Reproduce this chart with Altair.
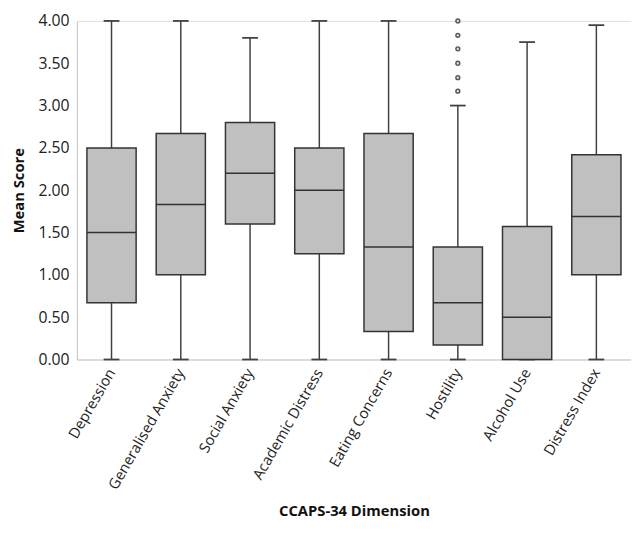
import altair as alt
import pandas as pd

categories = ["Depression", "Generalised Anxiety", "Social Anxiety", "Academic Distress",
              "Eating Concerns", "Hostility", "Alcohol Use", "Distress Index"]
whisker_low = [0.00, 0.00, 0.00, 0.00, 0.00, 0.00, 0.00, 0.00]
q1 = [0.67, 1.00, 1.60, 1.25, 0.33, 0.17, 0.00, 1.00]
median = [1.50, 1.83, 2.20, 2.00, 1.33, 0.67, 0.50, 1.69]
q3 = [2.50, 2.67, 2.80, 2.50, 2.67, 1.33, 1.57, 2.42]
whisker_high = [4.00, 4.00, 3.80, 4.00, 4.00, 3.00, 3.75, 3.95]
outlier_cat = ["Hostility"] * 6
outlier_val = [3.17, 3.33, 3.50, 3.67, 3.83, 4.00]

df = pd.DataFrame({"cat": categories, "lo": whisker_low, "q1": q1, "med": median,
                   "q3": q3, "hi": whisker_high})
odf = pd.DataFrame({"cat": outlier_cat, "val": outlier_val})

FONT = "Open Sans"
xenc = alt.X("cat:N", sort=categories, title="CCAPS-34 Dimension",
             scale=alt.Scale(paddingInner=0, paddingOuter=0),
             axis=alt.Axis(labelAngle=-60, labelAlign="right", labelBaseline="middle",
                           ticks=False, labelPadding=10, domainColor="#c8c8c8",
                           labelFontSize=15, titleFontSize=15, titleFontWeight="bold",
                           labelColor="#222222", titleColor="#111111", titlePadding=12,
                           labelFont=FONT, titleFont=FONT, labelLimit=300))
yscale = alt.Scale(domain=[0, 4], nice=False)
yaxis = alt.Axis(values=[0, 0.5, 1, 1.5, 2, 2.5, 3, 3.5, 4], format=".2f", grid=False,
                 ticks=False, labelPadding=8, domainColor="#c8c8c8", labelFontSize=16,
                 titleFontSize=15, titleFontWeight="bold", labelColor="#222222",
                 titleColor="#111111", titlePadding=12, labelFont=FONT, titleFont=FONT)

xs = alt.X("cat:N", sort=categories)
base = alt.Chart(df)
whisk = base.mark_rule(color="#404040", strokeWidth=1.5).encode(
    x=xenc, y=alt.Y("lo:Q", scale=yscale, axis=yaxis, title="Mean Score"), y2="hi:Q")
cap_lo = base.mark_rule(color="#404040", strokeWidth=1.8, xOffset=-8, x2Offset=8).encode(
    x=xs, x2=alt.X2("cat"), y="lo:Q")
cap_hi = base.mark_rule(color="#404040", strokeWidth=1.8, xOffset=-8, x2Offset=8).encode(
    x=xs, x2=alt.X2("cat"), y="hi:Q")
box = base.mark_bar(fill="#c0c0c0", stroke="#333333", strokeWidth=1.5, size=50).encode(
    x=xs, y="q1:Q", y2="q3:Q")
med = base.mark_tick(color="#333333", thickness=1.5, size=50, orient="horizontal",
                     opacity=1).encode(x=xs, y="med:Q")
outl = alt.Chart(odf).mark_point(shape="circle", size=16, stroke="#555555", strokeWidth=1.4,
                                 fill="#d8d8d8", filled=False, opacity=1).encode(
    x=xs, y="val:Q")

chart = alt.layer(whisk, cap_lo, cap_hi, box, med, outl).properties(
    width=563, height=344,
    padding={"left": 3, "top": 1, "right": 0, "bottom": 0}
).configure_view(stroke=None).configure(background="white")

chart.save("out.html", embed_options={"renderer": "svg", "actions": False})
